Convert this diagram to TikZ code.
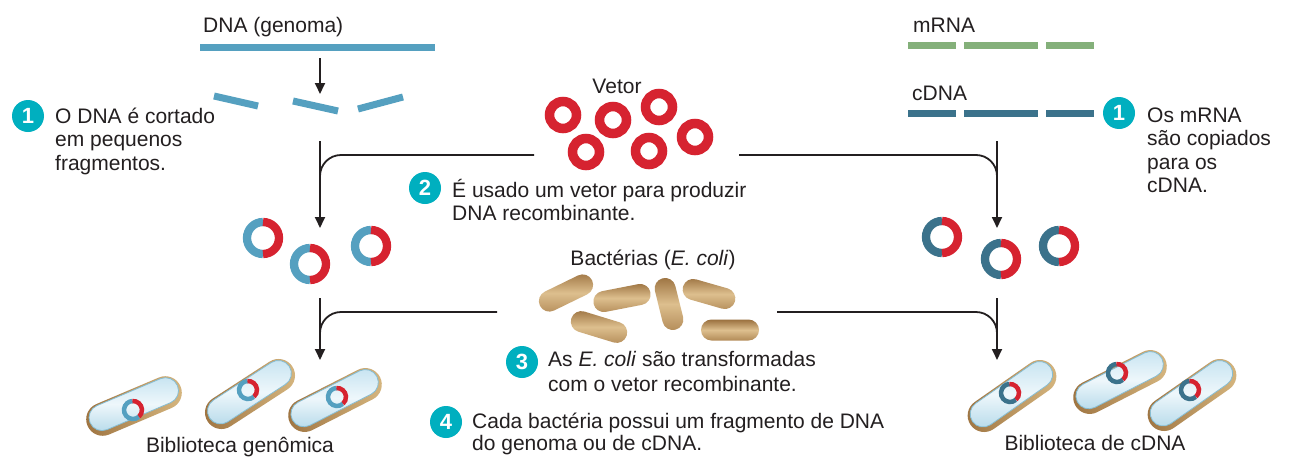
\documentclass[tikz,border=0pt]{standalone}
\usepackage{fontspec}
\setmainfont{Liberation Sans}
\usetikzlibrary{arrows.meta,calc}

\definecolor{ink}{HTML}{231F20}
\definecolor{gblue}{HTML}{55A0C0}
\definecolor{cblue}{HTML}{3B728B}
\definecolor{mgreen}{HTML}{84B07A}
\definecolor{vred}{HTML}{D62330}
\definecolor{stepteal}{HTML}{00AFBF}
\definecolor{rodD}{HTML}{9A703E}
\definecolor{rodM}{HTML}{DDBF8E}
\definecolor{rodB}{HTML}{B28A57}
\definecolor{wallD}{HTML}{9C713E}
\definecolor{wallL}{HTML}{D8B982}
\definecolor{bodyA}{HTML}{C3E2F0}
\definecolor{bodyB}{HTML}{B2D8E9}
\definecolor{bodyC}{HTML}{EEF7FB}
\definecolor{bodyedge}{HTML}{86BDD3}

\tikzset{
  txt/.style={font=\fontsize{21}{23.5}\selectfont, text=ink, inner sep=0pt, align=left},
  stepdot/.style={circle, fill=stepteal, text=white, minimum size=32pt, inner sep=0pt,
    font=\fontsize{22}{22}\selectfont\bfseries},
  conn/.style={draw=ink, line width=1.8pt},
  arrowed/.style={-{Triangle[width=10pt,length=11pt]}},
  strand/.style={line width=7pt},
  vring/.style={draw=vred, line width=9.5pt},
  halfring/.style={line width=8.3pt},
  minring/.style={line width=4.5pt},
  rod/.style={rectangle, rounded corners=10.5pt, minimum width=58pt, minimum height=21pt,
    inner sep=0pt, top color=rodD, bottom color=rodB, middle color=rodM},
  cellwall/.style={rectangle, rounded corners=16.5pt, minimum width=101pt, minimum height=33pt,
    inner sep=0pt, left color=wallD, right color=wallL, transform shape},
  cellbody/.style={rectangle, rounded corners=13pt, minimum width=95pt, minimum height=26pt,
    inner sep=0pt, draw=bodyedge, line width=0.8pt, top color=bodyA, bottom color=bodyB,
    middle color=bodyC, transform shape},
  libcell/.pic={
    \node[cellwall] (-wall) at (0,0) {};
    \node[cellbody] (-body) at (0.5,-1.8) {};
  }
}

\begin{document}
\begin{tikzpicture}[x=1pt,y=-1pt]
\useasboundingbox (0,0) rectangle (1290,458);
\fill[white] (0,0) rectangle (1290,458);

% ---------- genomic DNA and its fragments ----------
\node[txt, anchor=base west] (gen) at (203,32) {DNA (genoma)};
\draw[strand, gblue] (200,47) -- (435,47);
\draw[strand, gblue] (214,96) -- (258,106);
\draw[strand, gblue] (293,101) -- (338,111);
\draw[strand, gblue] (358,109) -- (403,97);
\coordinate (gcut0) at (320,58);
\coordinate (gcut1) at (320,94);
\draw[conn, arrowed] (gcut0) -- (gcut1);

\node[stepdot] (s1) at (28,116) {1};
% multi-line nodes are placed by the baseline of their last line
\node[txt, anchor=base west] (t1) at (55,170) {O DNA é cortado\\em pequenos\\fragmentos.};

% ---------- mRNA and cDNA ----------
\node[txt, anchor=base west] (mrna) at (913,32) {mRNA};
\draw[strand, mgreen] (908,45) -- (956,45);
\draw[strand, mgreen] (964,45) -- (1038,45);
\draw[strand, mgreen] (1046,45) -- (1094,45);
\node[txt, anchor=base west] (cdna) at (912,100) {cDNA};
\draw[strand, cblue] (908,113) -- (956,113);
\draw[strand, cblue] (964,113) -- (1038,113);
\draw[strand, cblue] (1046,113) -- (1094,113);

\node[stepdot] (s1r) at (1119,113) {1};
\node[txt, anchor=base west] (t1r) at (1147,192.5) {Os mRNA\\são copiados\\para os\\cDNA.};

% ---------- vector plasmids ----------
\node[txt, anchor=base] (vet) at (617,93) {Vetor};
\foreach \p in {(563,115),(613,120),(659,107),(695,137),(586,152),(649,151)}
  \draw[vring] \p circle[radius=13.5pt];

% upper connectors
\coordinate (lA0) at (320,141);
\coordinate (lA1) at (320,228);
\coordinate (lAh) at (534,155);
\coordinate (lAj) at (320,200);
\draw[conn, arrowed] (lA0) -- (lA1);
\draw[conn, rounded corners=21pt] (lAh) -| (lAj);

\coordinate (rA0) at (997,141);
\coordinate (rA1) at (997,228);
\coordinate (rAh) at (739,155);
\coordinate (rAj) at (997,200);
\draw[conn, arrowed] (rA0) -- (rA1);
\draw[conn, rounded corners=21pt] (rAh) -| (rAj);

\node[stepdot] (s2) at (425,188) {2};
\node[txt, anchor=base west] (t2) at (452,220.5) {É usado um vetor para produzir\\DNA recombinante.};

% ---------- recombinant plasmids ----------
\foreach \p in {(263,238),(310,264),(371,246)} {
  \draw[halfring, gblue] \p ++(90:16pt) arc[start angle=90, end angle=270, radius=16pt];
  \draw[halfring, vred] \p ++(-90:16pt) arc[start angle=-90, end angle=90, radius=16pt];
}
\foreach \p in {(942,237),(1001,259),(1059,246)} {
  \draw[halfring, cblue] \p ++(90:16pt) arc[start angle=90, end angle=270, radius=16pt];
  \draw[halfring, vred] \p ++(-90:16pt) arc[start angle=-90, end angle=90, radius=16pt];
}

% ---------- bacteria ----------
\node[txt, anchor=base] (bac) at (653,265) {Bactérias (\textit{E. coli})};
\node[rod, rotate=26] (rod1) at (566,293) {};
\node[rod, rotate=11] (rod2) at (622,298) {};
\node[rod, rotate=-17] (rod3) at (599,327) {};
\node[rod, rotate=-76, minimum width=53pt] (rod4) at (669,304) {};
\node[rod, rotate=-16, minimum width=54pt] (rod5) at (709,294) {};
\node[rod] (rod6) at (730,330) {};

% lower connectors
\coordinate (lB0) at (320,298);
\coordinate (lB1) at (320,360);
\coordinate (lBh) at (497,312);
\coordinate (lBj) at (320,345);
\draw[conn, arrowed] (lB0) -- (lB1);
\draw[conn, rounded corners=21pt] (lBh) -| (lBj);

\coordinate (rB0) at (997,298);
\coordinate (rB1) at (997,360);
\coordinate (rBh) at (777,312);
\coordinate (rBj) at (997,345);
\draw[conn, arrowed] (rB0) -- (rB1);
\draw[conn, rounded corners=21pt] (rBh) -| (rBj);

\node[stepdot] (s3) at (522,362) {3};
\node[txt, anchor=base west, font=\fontsize{21}{25}\selectfont] (t3) at (548,391)
  {As \textit{E. coli} são transformadas\\com o vetor recombinante.};
\node[stepdot] (s4) at (446,422) {4};
\node[txt, anchor=base west, font=\fontsize{21}{22.5}\selectfont] (t4) at (472,450.5)
  {Cada bactéria possui um fragmento de DNA\\do genoma ou de cDNA.};

% ---------- libraries ----------
\pic[rotate=23] (gc1) at (134,406) {libcell};
\pic[rotate=33] (gc2) at (250,394) {libcell};
\pic[rotate=27] (gc3) at (335,400) {libcell};
\pic[rotate=35] (cc1) at (1012,396) {libcell};
\pic[rotate=27] (cc2) at (1120,382) {libcell};
\pic[rotate=35] (cc3) at (1192,395) {libcell};

\foreach \p/\col in {(133,410)/gblue,(248,390)/gblue,(337,397)/gblue,
                     (1010,393)/cblue,(1117,373)/cblue,(1190,390)/cblue} {
  \draw[minring, vred] \p ++(95:9pt) arc[start angle=95, end angle=-50, radius=9pt];
  \draw[minring, \col] \p ++(-50:9pt) arc[start angle=-50, end angle=-265, radius=9pt];
}

\node[txt, anchor=base] (libg) at (240,452) {Biblioteca genômica};
\node[txt, anchor=base] (libc) at (1095,450) {Biblioteca de cDNA};
\end{tikzpicture}
\end{document}
